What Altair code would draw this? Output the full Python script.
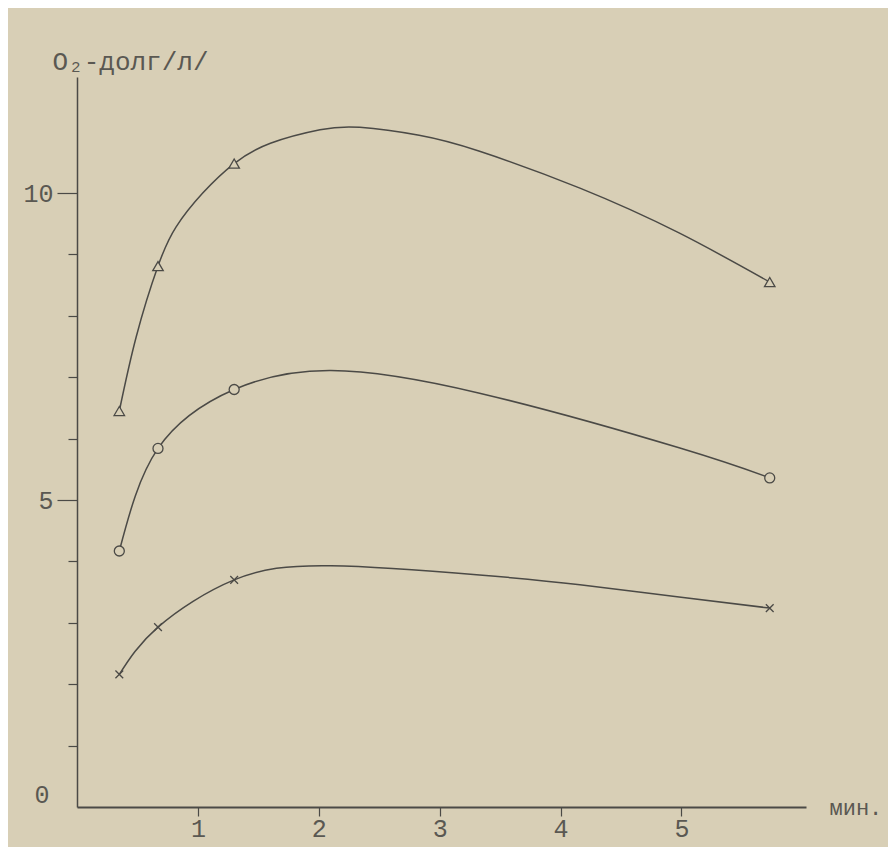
import altair as alt
import pandas as pd

# marker positions (minutes, O2 debt)
minutes = [0.35, 0.67, 1.30, 5.73]
tri_y = [6.45, 8.81, 10.48, 8.55]
circ_y = [4.17, 5.84, 6.80, 5.36]
cross_y = [2.16, 2.93, 3.70, 3.24]

# points
tri_curve_x = [0.35, 0.49, 0.67, 0.82, 1.04, 1.30, 1.60, 2.01, 2.34, 2.83, 3.33, 4.16, 4.98, 5.73]
tri_curve_y = [6.45, 7.66, 8.81, 9.45, 10.00, 10.48, 10.81, 11.03, 11.07, 10.94, 10.68, 10.08, 9.35, 8.55]
circ_curve_x = [0.35, 0.67, 1.30, 2.10, 3.33, 4.98, 5.73]
circ_curve_y = [4.17, 5.84, 6.80, 7.11, 6.74, 5.85, 5.36]
cross_curve_x = [0.35, 0.67, 1.30, 2.10, 3.33, 4.16, 4.98, 5.73]
cross_curve_y = [2.16, 2.93, 3.70, 3.93, 3.78, 3.62, 3.42, 3.24]

x_ticks = [1, 2, 3, 4, 5]
y_minor_ticks = [1, 2, 3, 4, 6, 7, 8, 9]
y_major_ticks = [5, 10]
y_zero = [0]

BG = "#d8cfb6"
INK = "#4b4a46"
TXT = "#5a5852"
FONT = "Liberation Mono"

lines = pd.DataFrame(
    [("tri", x, y) for x, y in zip(tri_curve_x, tri_curve_y)]
    + [("circ", x, y) for x, y in zip(circ_curve_x, circ_curve_y)]
    + [("cross", x, y) for x, y in zip(cross_curve_x, cross_curve_y)],
    columns=["series", "t", "v"],
)

tri_df = pd.DataFrame({"t": minutes, "v": tri_y})
circ_df = pd.DataFrame({"t": minutes, "v": circ_y})
cross_df = pd.DataFrame({"t": minutes, "v": cross_y})

xscale = alt.Scale(domain=[0, 6.03], nice=False, zero=False)
yscale = alt.Scale(domain=[0, 11.89], nice=False, zero=False)

xaxis = alt.Axis(
    values=x_ticks, format="d", grid=False, tickSize=9, tickColor=INK, tickWidth=1.2,
    domainColor=INK, domainWidth=2, labelFont=FONT, labelFontSize=25,
    labelColor=TXT, labelPadding=0, title="мин.", titleFont=FONT,
    titleFontSize=22, titleFontWeight="normal", titleColor=TXT,
    titleAngle=0, titleAlign="left", titleBaseline="middle",
    titleX=752, titleY=0,
)
yaxis_minor = alt.Axis(
    orient="left", values=y_minor_ticks, grid=False, tickSize=9,
    tickColor=INK, tickWidth=1.2, domainColor=INK, domainWidth=1.5,
    labels=False,
    title="O₂-долг/л/", titleFont=FONT, titleFontSize=26,
    titleFontWeight="normal", titleColor=TXT, titleAngle=0,
    titleAlign="left", titleBaseline="alphabetic", titleX=-25, titleY=-8,
)
yaxis_major = alt.Axis(
    orient="left", values=y_major_ticks, format="d", grid=False, tickSize=20,
    tickColor=INK, tickWidth=1.2, domain=False,
    labelFont=FONT, labelFontSize=25, labelColor=TXT, labelPadding=4,
    title=None,
)
yaxis_zero = alt.Axis(
    orient="left", values=y_zero, format="d", grid=False, ticks=False,
    domain=False, labelFont=FONT, labelFontSize=25, labelColor=TXT,
    labelPadding=28, labelBaseline="bottom", title=None,
)

curve = alt.Chart(lines).mark_line(
    interpolate="natural", color=INK, strokeWidth=1.5
).encode(
    x=alt.X("t:Q", scale=xscale, axis=xaxis),
    y=alt.Y("v:Q", scale=yscale, axis=yaxis_minor),
    detail="series:N",
)

tri_pts = alt.Chart(tri_df).mark_point(
    shape="triangle-up", size=110, filled=True, fill=BG, stroke=INK,
    strokeWidth=1.3, opacity=1,
).encode(x=alt.X("t:Q", scale=xscale),
         y=alt.Y("v:Q", scale=yscale, axis=yaxis_major))

circ_pts = alt.Chart(circ_df).mark_point(
    shape="circle", size=100, filled=True, fill=BG, stroke=INK,
    strokeWidth=1.3, opacity=1,
).encode(x=alt.X("t:Q", scale=xscale),
         y=alt.Y("v:Q", scale=yscale, axis=yaxis_zero))

cross_pts = alt.Chart(cross_df).mark_point(
    shape="M-1,-1L1,1M-1,1L1,-1", size=60, filled=False, stroke=INK,
    strokeWidth=1.3, opacity=1,
).encode(x=alt.X("t:Q", scale=xscale),
         y=alt.Y("v:Q", scale=yscale, axis=None))

chart = alt.layer(curve, tri_pts, circ_pts, cross_pts).resolve_axis(
    y="independent"
).properties(
    width=729, height=730,
    autosize=alt.AutoSizeParams(type="none"),
    padding={"left": 69, "top": 69, "right": 82, "bottom": 40},
    background=BG,
).configure_view(stroke=None, fill=BG)

chart.save("out.html", embed_options={"renderer": "svg", "actions": False})
